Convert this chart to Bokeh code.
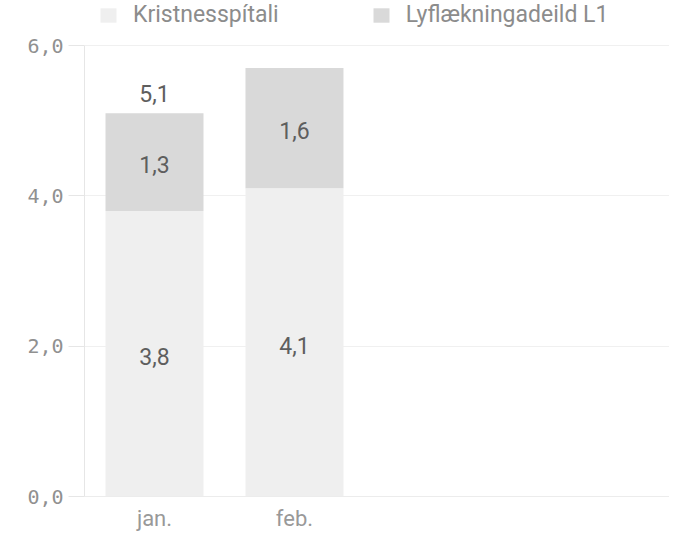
from bokeh.plotting import figure
from bokeh.models import ColumnDataSource, Legend, LegendItem, FixedTicker, Range1d, LabelSet
from bokeh.embed import file_html
from bokeh.resources import INLINE
from bokeh.core.properties import value

months = ["jan.", "feb."]
kristnes = [3.8, 4.1]
lyflaekninga = [1.3, 1.6]
totals = [5.1, 5.7]
series_names = ["Kristnesspítali", "Lyflækningadeild L1"]
colors = ["#efefef", "#d9d9d9"]
y_ticks = [0, 2, 4, 6]
y_tick_labels = ["0,0", "2,0", "4,0", "6,0"]


def fmt(v):
    return f"{v:.1f}".replace(".", ",")


xs = list(range(len(months)))
top1 = kristnes
top2 = [a + b for a, b in zip(kristnes, lyflaekninga)]

src = ColumnDataSource(dict(
    x=xs,
    b1=[0] * len(xs), t1=top1,
    b2=top1, t2=top2,
    y1=[v / 2 for v in kristnes],
    y2=[a + b / 2 for a, b in zip(kristnes, lyflaekninga)],
    l1=[fmt(v) for v in kristnes],
    l2=[fmt(v) for v in lyflaekninga],
))
tot_idx = [i for i, t in enumerate(totals) if t <= 5.5]
tot_src = ColumnDataSource(dict(
    x=[xs[i] for i in tot_idx],
    y=[totals[i] for i in tot_idx],
    l=[fmt(totals[i]) for i in tot_idx],
))

# frame extends above the top tick to leave room for the legend
p = figure(width=669, height=534, output_backend="svg", toolbar_location=None,
           x_range=Range1d(-0.5, 3.679), y_range=Range1d(0, 6.599),
           min_border_left=84, min_border_right=0, min_border_top=0, min_border_bottom=38)
p.outline_line_color = None
p.background_fill_color = "white"
p.border_fill_color = "white"

r1 = p.vbar(x="x", bottom="b1", top="t1", width=0.7, source=src,
            fill_color=colors[0], line_color=None)
r2 = p.vbar(x="x", bottom="b2", top="t2", width=0.7, source=src,
            fill_color=colors[1], line_color=None)

label_font = "Roboto"
lab_kw = dict(text_align="center", text_baseline="middle", text_color="#5e5e5e",
              text_font_size="23px", text_font=value(label_font))
p.add_layout(LabelSet(x="x", y="y1", text="l1", source=src, y_offset=-3, **lab_kw))
p.add_layout(LabelSet(x="x", y="y2", text="l2", source=src, y_offset=-2, **lab_kw))
p.add_layout(LabelSet(x="x", y="y", text="l", source=tot_src, y_offset=20, **lab_kw))

# axes
p.xaxis.ticker = FixedTicker(ticks=xs)
p.xaxis.major_label_overrides = {i: m for i, m in zip(xs, months)}
p.xaxis.major_tick_line_color = None
p.xaxis.major_tick_out = 0
p.xaxis.major_tick_in = 0
p.xaxis.minor_tick_line_color = None
p.xaxis.minor_tick_out = 0
p.xaxis.axis_line_color = "#ececec"
p.xaxis.major_label_text_color = "#999999"
p.xaxis.major_label_text_font = label_font
p.xaxis.major_label_text_font_size = "22px"
p.xaxis.major_label_standoff = 9

p.yaxis.ticker = FixedTicker(ticks=y_ticks)
p.yaxis.bounds = (y_ticks[0], y_ticks[-1])
p.yaxis.major_label_overrides = {t: l for t, l in zip(y_ticks, y_tick_labels)}
p.yaxis.major_tick_out = 16
p.yaxis.major_tick_in = 0
p.yaxis.major_tick_line_color = "#e6e6e6"
p.yaxis.minor_tick_line_color = None
p.yaxis.axis_line_color = "#e6e6e6"
p.yaxis.major_label_text_color = "#909090"
p.yaxis.major_label_text_font = "DejaVu Sans Mono"
p.yaxis.major_label_text_font_size = "20px"
p.yaxis.major_label_standoff = 5

p.xgrid.grid_line_color = None
p.ygrid.grid_line_color = "#f0f0f0"
p.ygrid.ticker = FixedTicker(ticks=y_ticks)

legend = Legend(items=[LegendItem(label=series_names[0], renderers=[r1]),
                       LegendItem(label=series_names[1], renderers=[r2])],
                orientation="horizontal", location=(14, 468),
                glyph_width=20, glyph_height=18, label_standoff=15, spacing=92,
                padding=0, margin=0, border_line_color=None, background_fill_alpha=0,
                label_text_color="#8c8c8c", label_text_font=label_font,
                label_text_font_size="23px")
p.add_layout(legend, "center")

open("out.html", "w").write(file_html(p, INLINE))
